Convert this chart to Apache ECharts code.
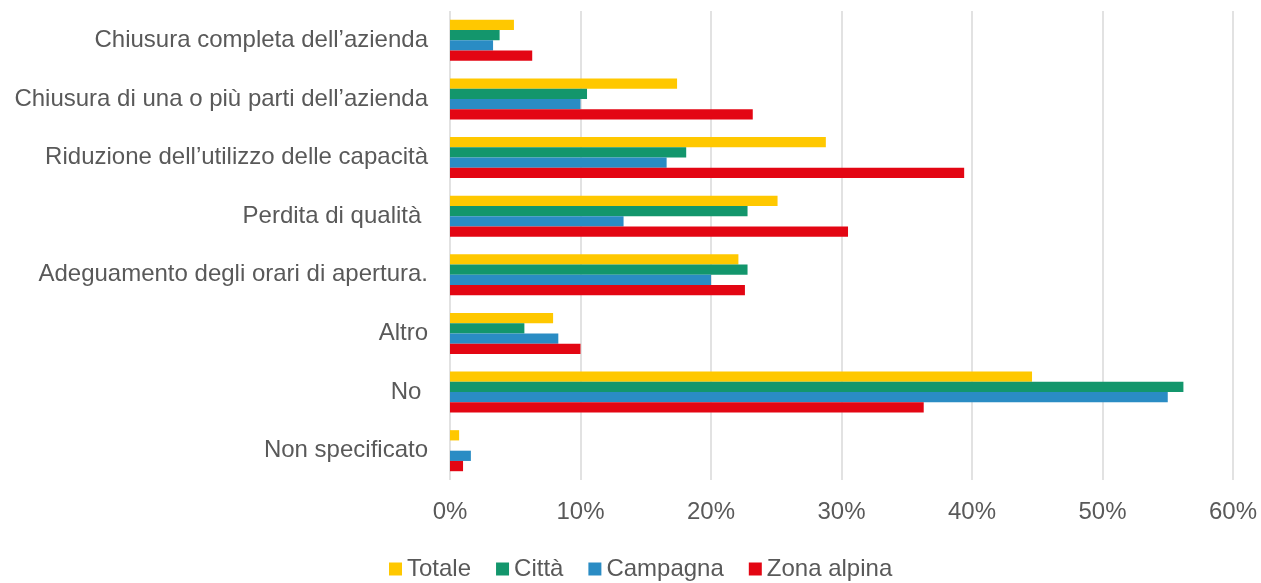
<!DOCTYPE html>
<html>
<head>
<meta charset="utf-8">
<script src="https://cdn.jsdelivr.net/npm/echarts@6/dist/echarts.min.js"></script>
<style>html,body{margin:0;padding:0;background:#fff}#c{width:1261px;height:583px}</style>
</head>
<body>
<div id="c"></div>
<script>
const categories = [
  "Chiusura completa dell’azienda",
  "Chiusura di una o più parti dell’azienda",
  "Riduzione dell’utilizzo delle capacità",
  "Perdita di qualità ",
  "Adeguamento degli orari di apertura.",
  "Altro",
  "No ",
  "Non specificato"
];
const seriesNames = ["Totale", "Città", "Campagna", "Zona alpina"];
const totale     = [4.9, 17.4, 28.8, 25.1, 22.1, 7.9, 44.6, 0.7];
const citta      = [3.8, 10.5, 18.1, 22.8, 22.8, 5.7, 56.2, 0];
const campagna   = [3.3, 10.0, 16.6, 13.3, 20.0, 8.3, 55.0, 1.6];
const zonaAlpina = [6.3, 23.2, 39.4, 30.5, 22.6, 10.0, 36.3, 1.0];
const xTicks = [0, 10, 20, 30, 40, 50, 60];

const colors = ["#FFC800", "#13966C", "#2A8CC4", "#E30613"];
const values = [totale, citta, campagna, zonaAlpina];

const chart = echarts.init(document.getElementById('c'));
chart.setOption({
  animation: false,
  textStyle: { fontFamily: "Liberation Sans, Arial, sans-serif" },
  grid: { left: 450, right: 28, top: 11, bottom: 103, containLabel: false },
  legend: {
    data: seriesNames,
    top: 552,
    left: 384,
    icon: 'rect',
    itemWidth: 13,
    itemHeight: 13,
    itemGap: 25,
    textStyle: { fontSize: 24, color: '#595959' }
  },
  xAxis: {
    type: 'value',
    min: xTicks[0],
    max: xTicks[xTicks.length - 1],
    interval: 10,
    axisLine: { show: false },
    axisTick: { show: false },
    splitLine: { lineStyle: { color: '#d9d9d9', width: 1.5 } },
    axisLabel: { formatter: '{value}%', fontSize: 24, color: '#595959', margin: 20 }
  },
  yAxis: {
    type: 'category',
    data: categories,
    inverse: true,
    axisLine: { show: false },
    axisTick: { show: false },
    axisLabel: { fontSize: 24, color: '#595959', margin: 22 }
  },
  series: seriesNames.map((n, i) => ({
    name: n,
    type: 'bar',
    data: values[i],
    itemStyle: { color: colors[i] },
    barGap: '0%',
    barCategoryGap: '30%'
  }))
});
</script>
</body>
</html>
